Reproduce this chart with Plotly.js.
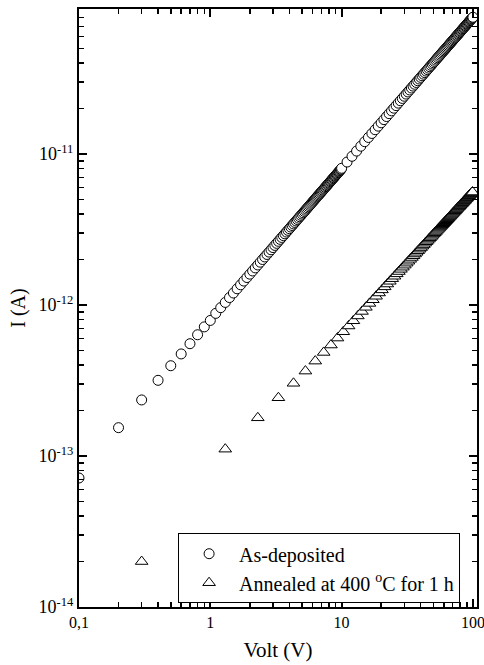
<!DOCTYPE html>
<html>
<head>
<meta charset="utf-8">
<script src="https://cdn.plot.ly/plotly-3.0.1.min.js"></script>
<style>html,body{margin:0;padding:0;background:#fff;}#chart{width:484px;height:665px;}</style>
</head>
<body>
<div id="chart"></div>
<script>
// ---- Data ----
var voltAsDeposited = [
0.1,0.2,0.3,0.4,0.5,0.6,0.7,0.8,0.9,1.0,
1.1,1.2,1.3,1.4,1.5,1.6,1.7,1.8,1.9,2.0,
2.1,2.2,2.3,2.4,2.5,2.6,2.7,2.8,2.9,3.0,
3.1,3.2,3.3,3.4,3.5,3.6,3.7,3.8,3.9,4.0,
4.1,4.2,4.3,4.4,4.5,4.6,4.7,4.8,4.9,5.0,
5.1,5.2,5.3,5.4,5.5,5.6,5.7,5.8,5.9,6.0,
6.1,6.2,6.3,6.4,6.5,6.6,6.7,6.8,6.9,7.0,
7.1,7.2,7.3,7.4,7.5,7.6,7.7,7.8,7.9,8.0,
8.1,8.2,8.3,8.4,8.5,8.6,8.7,8.8,8.9,9.0,
9.1,9.2,9.3,9.4,9.5,9.6,9.7,9.8,9.9,10.0,
11,12,13,14,15,16,17,18,19,20,
21,22,23,24,25,26,27,28,29,30,
31,32,33,34,35,36,37,38,39,40,
41,42,43,44,45,46,47,48,49,50,
51,52,53,54,55,56,57,58,59,60,
61,62,63,64,65,66,67,68,69,70,
71,72,73,74,75,76,77,78,79,80,
81,82,83,84,85,86,87,88,89,90,
91,92,93,94,95,96,97,98,99,100
];
// current in pA
var currentAsDeposited_pA = [
0.0715,0.154,0.235,0.317,0.396,0.474,0.554,0.635,0.716,0.790,
0.88,0.96,1.04,1.12,1.20,1.28,1.36,1.44,1.52,1.60,
1.68,1.76,1.84,1.92,2.00,2.08,2.16,2.24,2.32,2.40,
2.48,2.56,2.64,2.72,2.80,2.88,2.96,3.04,3.12,3.20,
3.28,3.36,3.44,3.52,3.60,3.68,3.76,3.84,3.92,4.00,
4.08,4.16,4.24,4.32,4.40,4.48,4.56,4.64,4.72,4.80,
4.88,4.96,5.04,5.12,5.20,5.28,5.36,5.44,5.52,5.60,
5.68,5.76,5.84,5.92,6.00,6.08,6.16,6.24,6.32,6.40,
6.48,6.56,6.64,6.72,6.80,6.88,6.96,7.04,7.12,7.20,
7.28,7.36,7.44,7.52,7.60,7.68,7.76,7.84,7.92,8.04,
8.84,9.65,10.45,11.26,12.06,12.86,13.67,14.47,15.28,16.08,
16.88,17.69,18.49,19.30,20.10,20.90,21.71,22.51,23.32,24.12,
24.92,25.73,26.53,27.34,28.14,28.94,29.75,30.55,31.36,32.16,
32.96,33.77,34.57,35.38,36.18,36.98,37.79,38.59,39.40,40.20,
41.00,41.81,42.61,43.42,44.22,45.02,45.83,46.63,47.44,48.24,
49.04,49.85,50.65,51.46,52.26,53.06,53.87,54.67,55.48,56.28,
57.08,57.89,58.69,59.50,60.30,61.10,61.91,62.71,63.52,64.32,
65.12,65.93,66.73,67.54,68.34,69.14,69.95,70.75,71.56,72.36,
73.16,73.97,74.77,75.58,76.38,77.18,77.99,78.79,79.60,80.40
];

var voltAnnealed = [
0.3,1.3,2.3,3.3,4.3,5.3,6.3,7.3,8.3,9.3,
10.3,11.3,12.3,13.3,14.3,15.3,16.3,17.3,18.3,19.3,
20.3,21.3,22.3,23.3,24.3,25.3,26.3,27.3,28.3,29.3,
30.3,31.3,32.3,33.3,34.3,35.3,36.3,37.3,38.3,39.3,
40.3,41.3,42.3,43.3,44.3,45.3,46.3,47.3,48.3,49.3,
50.3,51.3,52.3,53.3,54.3,55.3,56.3,57.3,58.3,59.3,
60.3,61.3,62.3,63.3,64.3,65.3,66.3,67.3,68.3,69.3,
70.3,71.3,72.3,73.3,74.3,75.3,76.3,77.3,78.3,79.3,
80.3,81.3,82.3,83.3,84.3,85.3,86.3,87.3,88.3,89.3,
90.3,91.3,92.3,93.3,94.3,95.3,96.3,97.3,98.3,99.3
];
var currentAnnealed_pA = [
0.020,0.111,0.179,0.243,0.303,0.365,0.425,0.485,0.543,0.604,
0.665,0.726,0.786,0.846,0.906,0.965,1.024,1.083,1.142,1.201,
1.259,1.318,1.377,1.435,1.493,1.550,1.608,1.665,1.722,1.779,
1.835,1.892,1.949,2.006,2.063,2.119,2.176,2.232,2.288,2.343,
2.399,2.455,2.511,2.567,2.623,2.679,2.734,2.789,2.844,2.900,
2.955,3.010,3.065,3.121,3.176,3.231,3.286,3.340,3.395,3.449,
3.503,3.559,3.613,3.668,3.722,3.776,3.831,3.885,3.939,3.993,
4.047,4.101,4.156,4.210,4.264,4.318,4.371,4.425,4.479,4.533,
4.586,4.640,4.694,4.747,4.801,4.854,4.908,4.961,5.015,5.068,
5.121,5.175,5.228,5.282,5.335,5.388,5.441,5.495,5.547,5.600
];

var seriesNames = ['As-deposited', 'Annealed at 400 <sup>o</sup>C for 1 h'];
var xTickVals = [0.1, 1, 10, 100];
var xTickText = ['0,1', '1', '10', '100'];
var yTickVals = [1e-14, 1e-13, 1e-12, 1e-11];
var yTickText = ['10<sup>-14</sup>', '10<sup>-13</sup>', '10<sup>-12</sup>', '10<sup>-11</sup>'];

// ---- build ----
function toAmp(arr) { return arr.map(function (v) { return v * 1e-12; }); }
function minorLog(lo, hi) {
  var out = [];
  for (var e = lo; e <= hi; e++) for (var k = 2; k <= 9; k++) out.push(k * Math.pow(10, e));
  return out;
}
var FONT = 'Liberation Serif, Times New Roman, serif';

var traces = [
  {
    x: voltAsDeposited, y: toAmp(currentAsDeposited_pA), name: seriesNames[0],
    type: 'scatter', mode: 'markers',
    marker: { symbol: 'circle', size: 10, color: '#ffffff', line: { color: '#000000', width: 1 } }
  },
  {
    x: voltAnnealed, y: toAmp(currentAnnealed_pA), name: seriesNames[1],
    type: 'scatter', mode: 'markers',
    marker: { symbol: 'triangle-up', size: 11, color: '#ffffff', line: { color: '#000000', width: 1 } }
  }
];

var axisCommon = {
  type: 'log', showgrid: false, zeroline: false,
  showline: true, linecolor: '#000', linewidth: 2, mirror: 'ticks',
  ticks: 'inside', ticklen: 8, tickwidth: 2, tickcolor: '#000',
  tickmode: 'array', ticklabeloverflow: 'allow'
};

var layout = {
  width: 484, height: 665,
  margin: { l: 79, r: 7, t: 9, b: 58 },
  paper_bgcolor: '#fff', plot_bgcolor: '#fff',
  font: { family: FONT, size: 18, color: '#000' },
  showlegend: true,
  xaxis: Object.assign({}, axisCommon, {
    range: [-1, 2.031],
    tickvals: xTickVals, ticktext: xTickText,
    tickfont: { family: FONT, size: 16, color: '#000' },
    minor: { tickmode: 'array', tickvals: minorLog(-1, 1), ticks: 'inside', ticklen: 5, tickwidth: 1.5, tickcolor: '#000', showgrid: false },
    title: { text: 'Volt (V)', font: { family: FONT, size: 21, color: '#000' }, standoff: 12 }
  }),
  yaxis: Object.assign({}, axisCommon, {
    range: [-14, -10.04],
    tickvals: yTickVals, ticktext: yTickText,
    tickfont: { family: FONT, size: 18, color: '#000' },
    minor: { tickmode: 'array', tickvals: minorLog(-14, -11), ticks: 'inside', ticklen: 5, tickwidth: 1.5, tickcolor: '#000', showgrid: false },
    title: { text: 'I (A)', font: { family: FONT, size: 20, color: '#000' }, standoff: 8 }
  }),
  legend: {
    x: 0.249, xanchor: 'left', y: 0.1234, yanchor: 'top',
    bgcolor: '#fff', bordercolor: '#000', borderwidth: 1,
    font: { family: FONT, size: 20, color: '#000' },
    itemwidth: 50
  }
};

Plotly.newPlot('chart', traces, layout, { displayModeBar: false, staticPlot: true });
</script>
</body>
</html>
